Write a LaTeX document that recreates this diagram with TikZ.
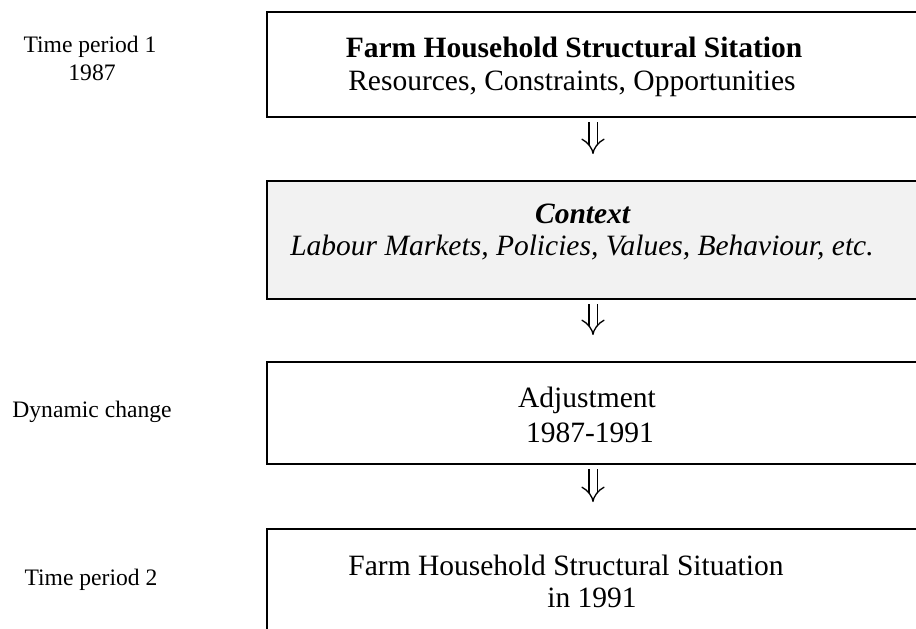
\documentclass[tikz,border=0pt]{standalone}
\usepackage{fontspec}
\setmainfont{Liberation Serif}
\usetikzlibrary{arrows.meta, positioning}
\definecolor{ctxgray}{HTML}{F2F2F2}

\begin{document}
\begin{tikzpicture}[x=1pt, y=-1pt,
    stage/.style={draw, line width=2.2pt, minimum width=680pt, anchor=north west, inner sep=0pt},
    boxtext/.style={font=\fontsize{29.5}{33}\selectfont, anchor=base, inner sep=0pt},
    sidetext/.style={font=\fontsize{23.6}{28}\selectfont, anchor=base, inner sep=0pt},
    dblarrow/.style={double, double distance=7pt, line width=1.3pt, -{Implies}, shorten <=4pt, shorten >=26pt}]
    \useasboundingbox (0,0) rectangle (916,629);
    \clip (0,0) rectangle (916,629);
    \node[stage, minimum height=105pt] (sit1) at (266,11) {};
    \node[stage, minimum height=118pt, fill=ctxgray] (ctx) at (266,180) {};
    \node[stage, minimum height=102pt] (adj) at (266,361) {};
    \node[stage, minimum height=112pt] (sit2) at (266,528) {};
    \node[boxtext] (sit1title) at (574,57) {\textbf{Farm Household Structural Sitation}};
    \node[boxtext] (sit1sub) at (572,90) {Resources, Constraints, Opportunities};
    \node[boxtext] (ctxtitle) at (583,223) {\textbf{\textit{Context}}};
    \node[boxtext] (ctxsub) at (582,255) {\textit{Labour Markets, Policies, Values, Behaviour, etc.}};
    \node[boxtext] (adjtitle) at (587,407) {Adjustment};
    \node[boxtext] (adjyears) at (590,442) {1987-1991};
    \node[boxtext] (sit2title) at (566,575) {Farm Household Structural Situation};
    \node[boxtext] (sit2year) at (592,607) {in 1991};
    \node[sidetext] (period1) at (90,52) {Time period 1};
    \node[sidetext] (year1) at (92,80) {1987};
    \node[sidetext] (dynchange) at (92,417) {Dynamic change};
    \node[sidetext] (period2) at (91,585) {Time period 2};
    \coordinate (ax) at (593,0);
    \draw[dblarrow] (sit1.south -| ax) -- (ctx.north -| ax);
    \draw[dblarrow] (ctx.south -| ax) -- (adj.north -| ax);
    \draw[dblarrow] (adj.south -| ax) -- (sit2.north -| ax);
\end{tikzpicture}
\end{document}
